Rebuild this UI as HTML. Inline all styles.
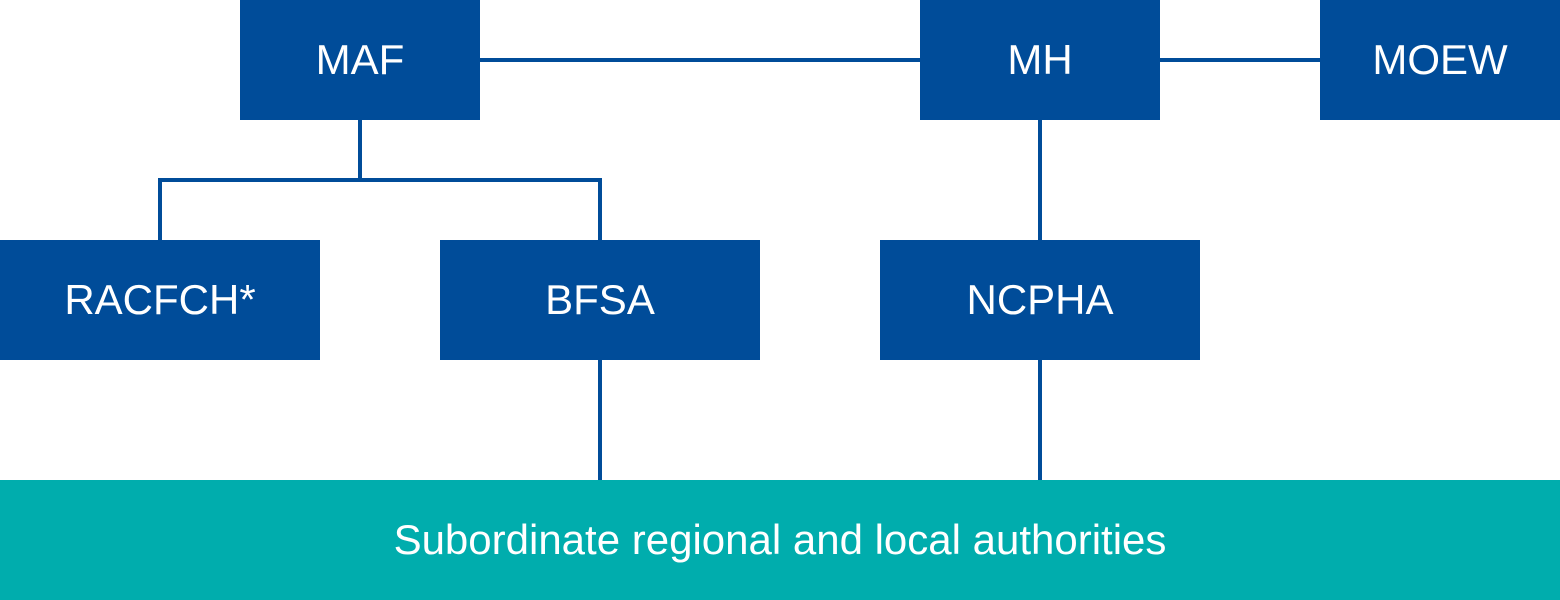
<!DOCTYPE html>
<html><head><meta charset="utf-8"><style>
html,body{margin:0;padding:0;background:#fff;}
body{width:1560px;height:600px;position:relative;overflow:hidden;font-family:"Liberation Sans",Arial,sans-serif;}
.b{position:absolute;background:#004c99;color:#fff;font-size:42px;display:flex;align-items:center;justify-content:center;}
.l{position:absolute;background:#004c99;}
</style></head><body>
<div class="l" style="left:480px;top:58px;width:440px;height:4px"></div>
<div class="l" style="left:1160px;top:58px;width:160px;height:4px"></div>
<div class="l" style="left:358px;top:120px;width:4px;height:62px"></div>
<div class="l" style="left:158px;top:178px;width:444px;height:4px"></div>
<div class="l" style="left:158px;top:178px;width:4px;height:62px"></div>
<div class="l" style="left:598px;top:178px;width:4px;height:62px"></div>
<div class="l" style="left:1038px;top:120px;width:4px;height:120px"></div>
<div class="l" style="left:598px;top:360px;width:4px;height:120px"></div>
<div class="l" style="left:1038px;top:360px;width:4px;height:120px"></div>
<div class="b" style="left:240px;top:0;width:240px;height:120px">MAF</div>
<div class="b" style="left:920px;top:0;width:240px;height:120px">MH</div>
<div class="b" style="left:1320px;top:0;width:240px;height:120px">MOEW</div>
<div class="b" style="left:0;top:240px;width:320px;height:120px">RACFCH*</div>
<div class="b" style="left:440px;top:240px;width:320px;height:120px">BFSA</div>
<div class="b" style="left:880px;top:240px;width:320px;height:120px">NCPHA</div>
<div class="b" style="left:0;top:480px;width:1560px;height:120px;background:#00adad">Subordinate regional and local authorities</div>
</body></html>
